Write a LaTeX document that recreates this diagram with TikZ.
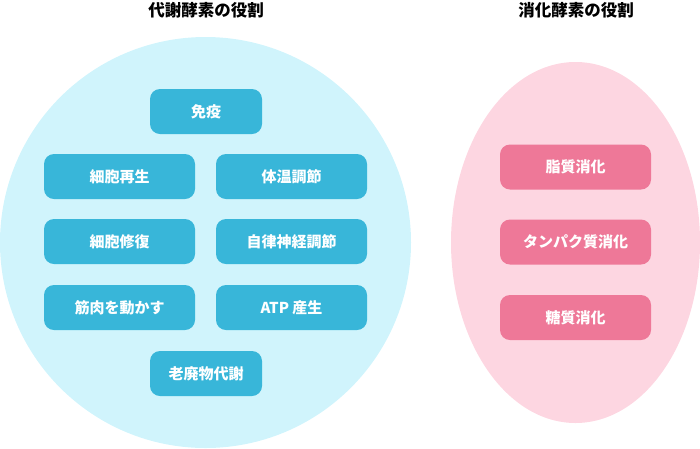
\documentclass[tikz,border=0pt]{standalone}
\usepackage{fontspec}
\newfontfamily\cjk{Noto Sans CJK JP}
\definecolor{bluebg}{HTML}{D0F4FC}
\definecolor{bluebox}{HTML}{38B6D9}
\definecolor{pinkbg}{HTML}{FDD6E1}
\definecolor{pinkbox}{HTML}{EE7898}
\begin{document}
\begin{tikzpicture}[x=1pt,y=-1pt,
  box/.style={rounded corners=10pt, minimum height=45pt, inner sep=0pt,
    text=white, font=\cjk\bfseries\fontsize{15}{17}\selectfont},
  bbox/.style={box, fill=bluebox},
  pbox/.style={box, fill=pinkbox, minimum width=151pt},
  wide/.style={minimum width=151pt},
  narrow/.style={minimum width=112pt},
  title/.style={font=\cjk\bfseries\fontsize{16.5}{18}\selectfont, text=black}]
\useasboundingbox (0,0) rectangle (700,448);
\fill[bluebg] (205.5,242.5) circle[radius=205.5];
\fill[pinkbg] (575.5,242.5) ellipse[x radius=124.5, y radius=180.5];
\node[title] (t1) at (206,10) {代謝酵素の役割};
\node[title] (t2) at (576,10) {消化酵素の役割};
\node[bbox,narrow] (a) at (206,111.5) {免疫};
\node[bbox,wide] (b) at (119.5,176.5) {細胞再生};
\node[bbox,wide] (c) at (291.5,176.5) {体温調節};
\node[bbox,wide] (d) at (119.5,241.5) {細胞修復};
\node[bbox,wide] (e) at (291.5,241.5) {自律神経調節};
\node[bbox,wide] (f) at (119.5,307.5) {筋肉を動かす};
\node[bbox,wide] (g) at (291.5,307.5) {ATP 産生};
\node[bbox,narrow] (h) at (206,373.5) {老廃物代謝};
\node[pbox] (p1) at (575.5,167) {脂質消化};
\node[pbox] (p2) at (575.5,242) {タンパク質消化};
\node[pbox] (p3) at (575.5,317.5) {糖質消化};
\end{tikzpicture}
\end{document}
